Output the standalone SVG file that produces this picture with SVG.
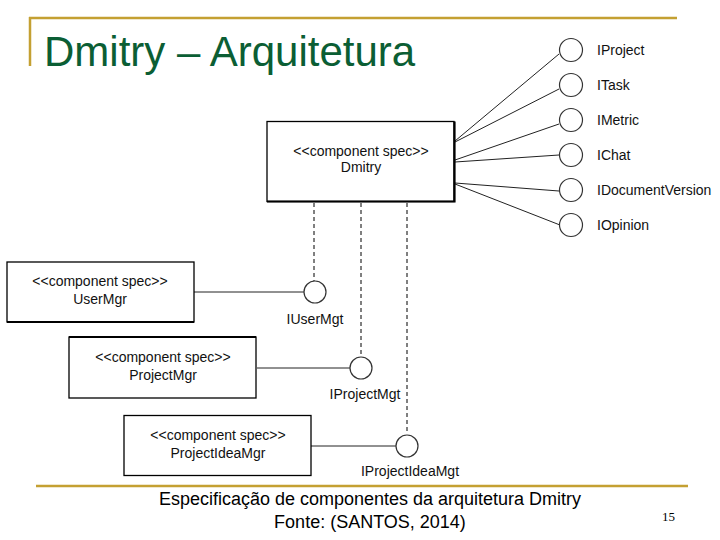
<svg xmlns="http://www.w3.org/2000/svg" width="720" height="540" viewBox="0 0 720 540">
<style>
.gold{stroke:#c4a032;stroke-width:2.5;fill:none}
.box{fill:#fff;stroke:#000;stroke-width:1.3}
.sh{stroke:#000;stroke-width:2.2;fill:none}
.ln{stroke:#222;stroke-width:1;fill:none}
.dash{stroke:#000;stroke-width:1;stroke-dasharray:4,3;fill:none}
.ci{fill:#fff;stroke:#333;stroke-width:1.2}
.t{font-family:"Liberation Sans",Arial,sans-serif;font-size:14px;fill:#111}
.c{text-anchor:middle}
.title{font-family:"Liberation Sans",Arial,sans-serif;font-size:42px;fill:#0b5e34}
.cap{font-family:"Liberation Sans",Arial,sans-serif;font-size:18px;fill:#000;text-anchor:middle}
</style>
<rect width="720" height="540" fill="#fff"/>
<g id="frame">
<path class="gold" d="M29,18 H677 M30,17 V66"/>
<path class="gold" d="M36,486 H688"/>
</g>
<text class="title" x="44" y="66">Dmitry – Arquitetura</text>
<g id="connectors">
<path class="ln" d="M455,141 L559,54 M455,142 L559,89 M455,160 L559,124 M455,162 L559,155 M455,183 L559,191 M455,184 L560,225"/>
<path class="dash" d="M314,203 V281 M361,203 V357 M407,203 V434"/>
<path class="ln" d="M194,292 H304 M257,368 H350 M311,446 H396"/>
</g>
<g id="Dmitry">
<rect class="box" x="267" y="121.5" width="187" height="80"/>
<path class="sh" d="M267,201.5 H454.5 V121.5"/>
<text class="t c" x="361" y="156">&lt;&lt;component spec&gt;&gt;</text>
<text class="t c" x="361" y="172">Dmitry</text>
</g>
<g id="IProject"><circle class="ci" cx="571" cy="50" r="11.5"/><text class="t" x="597" y="55">IProject</text></g>
<g id="ITask"><circle class="ci" cx="571" cy="85" r="11.5"/><text class="t" x="597" y="90">ITask</text></g>
<g id="IMetric"><circle class="ci" cx="571" cy="120" r="11.5"/><text class="t" x="597" y="125">IMetric</text></g>
<g id="IChat"><circle class="ci" cx="571" cy="155" r="11.5"/><text class="t" x="597" y="160">IChat</text></g>
<g id="IDocumentVersion"><circle class="ci" cx="571" cy="190" r="11.5"/><text class="t" x="597" y="195">IDocumentVersion</text></g>
<g id="IOpinion"><circle class="ci" cx="571" cy="225" r="11.5"/><text class="t" x="597" y="230">IOpinion</text></g>
<g id="UserMgr">
<rect class="box" x="7" y="262" width="187" height="60"/>
<path class="sh" d="M7,322 H194"/>
<text class="t c" x="100" y="286">&lt;&lt;component spec&gt;&gt;</text>
<text class="t c" x="100" y="304">UserMgr</text>
</g>
<g id="ProjectMgr">
<rect class="box" x="69" y="337" width="187" height="61"/>
<path class="sh" d="M69,337 H256"/>
<text class="t c" x="163" y="362">&lt;&lt;component spec&gt;&gt;</text>
<text class="t c" x="163" y="380">ProjectMgr</text>
</g>
<g id="ProjectIdeaMgr">
<rect class="box" x="124" y="415.5" width="187" height="60"/>
<text class="t c" x="218" y="440">&lt;&lt;component spec&gt;&gt;</text>
<text class="t c" x="218" y="458">ProjectIdeaMgr</text>
</g>
<g id="IUserMgt"><circle class="ci" cx="315" cy="292" r="11"/><text class="t c" x="315" y="324">IUserMgt</text></g>
<g id="IProjectMgt"><circle class="ci" cx="361" cy="368" r="11"/><text class="t c" x="365" y="399">IProjectMgt</text></g>
<g id="IProjectIdeaMgt"><circle class="ci" cx="407" cy="446" r="11"/><text class="t c" x="410" y="476">IProjectIdeaMgt</text></g>
<g id="caption">
<text class="cap" x="370" y="505">Especificação de componentes da arquitetura Dmitry</text>
<text class="cap" x="370" y="528">Fonte: (SANTOS, 2014)</text>
<text x="662" y="521" font-family="Liberation Serif,serif" font-size="13" fill="#000">15</text>
</g>
</svg>
